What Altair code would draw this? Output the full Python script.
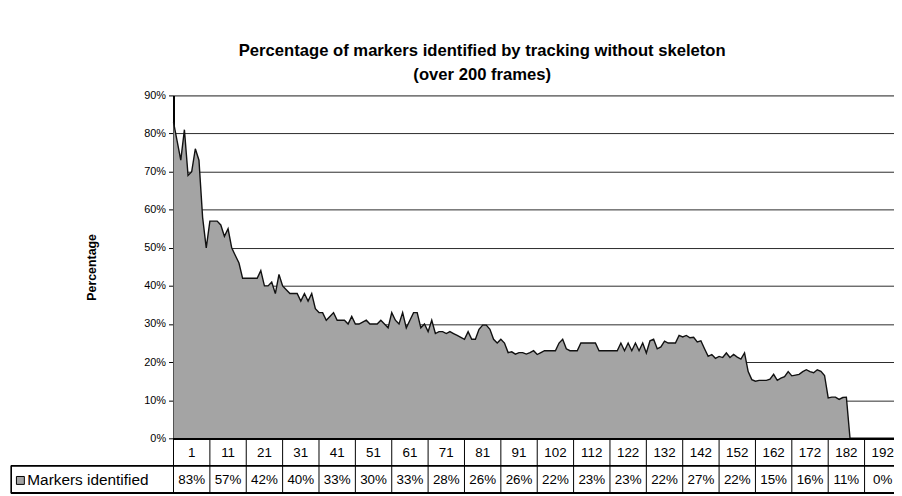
import altair as alt
import pandas as pd

title_lines = ["Percentage of markers identified by tracking without skeleton", "(over 200 frames)"]
y_title = "Percentage"
series_name = "Markers identified"

table_labels = ["1", "11", "21", "31", "41", "51", "61", "71", "81", "91",
                "102", "112", "122", "132", "142", "152", "162", "172", "182", "192"]
table_values = ["83%", "57%", "42%", "40%", "33%", "30%", "33%", "28%", "26%", "26%",
                "22%", "23%", "23%", "22%", "27%", "22%", "15%", "16%", "11%", "0%"]

markers = [
    83, 78, 73, 81, 69, 70, 76, 73, 58, 50,
    57, 57, 57, 56, 53, 55, 50, 48, 46, 42,
    42, 42, 42, 42, 44, 40, 40, 41, 38, 43,
    40, 39, 38, 38, 38, 36, 38, 36, 38, 34,
    33, 33, 31, 32, 33, 31, 31, 31, 30, 32,
    30, 30, 30.5, 31, 30, 30, 30, 31, 30, 29,
    33, 31, 30, 33, 29, 31, 33, 33, 29, 30,
    28, 31, 27.5, 28, 28, 27.5, 28, 27.5, 27, 26.5,
    26, 28, 26, 26, 28.6, 29.7, 29.7, 28.6, 26, 25,
    26, 25, 22.5, 22.7, 22.1, 22.5, 22.5, 22.1, 22.5, 23,
    22, 22.5, 23, 23, 23, 23, 25, 26, 23.5, 23,
    23, 23, 25, 25, 25, 25, 25, 23, 23, 23,
    23, 23, 23, 25, 23, 25, 23, 25, 23, 25,
    22.4, 25.6, 26, 23.5, 24, 25.5, 25, 25, 25, 27,
    26.6, 27, 26.4, 26.5, 25.3, 25.6, 23.5, 21.5, 22, 21,
    21.5, 21.2, 22.4, 21.2, 22, 21.3, 20.8, 22.4, 17.5, 15.4,
    15, 15.2, 15.2, 15.2, 15.5, 16.8, 15.2, 15.8, 16.2, 17.5,
    16.4, 16.6, 16.8, 17.5, 18, 17.5, 17.2, 18, 17.6, 16.5,
    10.6, 10.8, 10.8, 10.2, 10.7, 10.8, 0, 0, 0, 0,
    0, 0, 0, 0, 0, 0, 0, 0, 0, 0,
]

FONT = "Liberation Sans"
W, H = 727, 346
PX_PER_POINT = 3.67
X_MAX = W / PX_PER_POINT
STEP = 10
ROW1 = H + 27.5
ROW2 = H + 55.5
TABLE_FS = 13.5
LEFT_EDGE = -163.5

series = pd.DataFrame({"idx": list(range(len(markers))), "val": markers})
cells = pd.DataFrame({
    "mid": [i * STEP + STEP / 2 for i in range(len(table_labels))],
    "label": table_labels,
    "value": table_values,
})
bounds = pd.DataFrame({"b": [i * STEP for i in range(len(table_labels) + 1)]})

xs = alt.Scale(domain=[0, X_MAX], nice=False, zero=False)
ys = alt.Scale(domain=[0, 90], nice=False, zero=True)

y_axis = alt.Axis(values=list(range(0, 91, 10)), tickCount=10,
                  labelExpr="datum.value + '%'", labelOverlap=False,
                  grid=True, gridColor="#2a2a2a", gridWidth=1,
                  tickSize=5, tickColor="#000", domainColor="#000", domainWidth=2,
                  labelFont=FONT, labelFontSize=11, labelColor="#000", labelPadding=3,
                  titleFont=FONT, titleFontSize=12.5, titleFontWeight="bold", titleColor="#000",
                  titleX=-83, titleY=H / 2, titleAngle=-90, titleBaseline="middle")

x_enc = alt.X("idx:Q", scale=xs, axis=None)

area = alt.Chart(series).mark_area(color="#A4A4A4", opacity=1).encode(
    x=x_enc,
    y=alt.Y("val:Q", scale=ys, title=y_title, axis=y_axis),
)
line = alt.Chart(series).mark_line(color="#111", strokeWidth=1.4).encode(
    x=x_enc, y=alt.Y("val:Q", scale=ys, title=y_title, axis=y_axis),
)

# data table grid
top_rule = alt.Chart(bounds).mark_rule(color="#000", strokeWidth=1).encode(
    x=alt.value(0), x2=alt.value(W + 20), y=alt.value(H + 0.5)
)
mid_rule = alt.Chart(bounds).mark_rule(color="#000", strokeWidth=1).encode(
    x=alt.value(LEFT_EDGE), x2=alt.value(W + 20), y=alt.value(ROW1)
)
bot_rule = alt.Chart(bounds).mark_rule(color="#000", strokeWidth=1).encode(
    x=alt.value(LEFT_EDGE), x2=alt.value(W + 20), y=alt.value(ROW2)
)
left_rule = alt.Chart(bounds).mark_rule(color="#000", strokeWidth=1).encode(
    x=alt.value(LEFT_EDGE), y=alt.value(ROW1), y2=alt.value(ROW2)
)
vrules = alt.Chart(bounds).mark_rule(color="#000", strokeWidth=1).encode(
    x=alt.X("b:Q", scale=xs), y=alt.value(H), y2=alt.value(ROW2)
)
lab_text = alt.Chart(cells).mark_text(font=FONT, fontSize=TABLE_FS, color="#000", baseline="middle").encode(
    x=alt.X("mid:Q", scale=xs), y=alt.value((H + ROW1) / 2 + 1), text="label:N"
)
val_text = alt.Chart(cells).mark_text(font=FONT, fontSize=TABLE_FS, color="#000", baseline="middle").encode(
    x=alt.X("mid:Q", scale=xs), y=alt.value((ROW1 + ROW2) / 2 + 1), text="value:N"
)
legend_df = pd.DataFrame({"name": [series_name]})
legend_sym = alt.Chart(legend_df).mark_square(size=64, filled=True, color="#A4A4A4",
                                              stroke="#000", strokeWidth=1, opacity=1).encode(
    x=alt.value(LEFT_EDGE + 9), y=alt.value((ROW1 + ROW2) / 2 + 1)
)
legend_txt = alt.Chart(legend_df).mark_text(font=FONT, fontSize=TABLE_FS + 2, color="#000",
                                            align="left", baseline="middle").encode(
    x=alt.value(LEFT_EDGE + 16), y=alt.value((ROW1 + ROW2) / 2 + 1), text="name:N"
)

chart = alt.layer(
    area, line, top_rule, mid_rule, bot_rule, left_rule, vrules,
    lab_text, val_text, legend_sym, legend_txt,
).properties(
    width=W, height=H,
    autosize=alt.AutoSizeParams(type="none"),
    padding={"left": 167, "top": 86, "right": 0, "bottom": 56},
    title=alt.Title(title_lines, anchor="middle", frame="group", dx=-52, offset=6,
                    font=FONT, fontSize=16.8, fontWeight="bold", color="#000", lineHeight=24),
).configure_view(
    fill="#C0C0C0", stroke="#8c8c8c", strokeWidth=1
).configure(background="white")

chart.save("out.html", embed_options={"renderer": "svg", "actions": False})
